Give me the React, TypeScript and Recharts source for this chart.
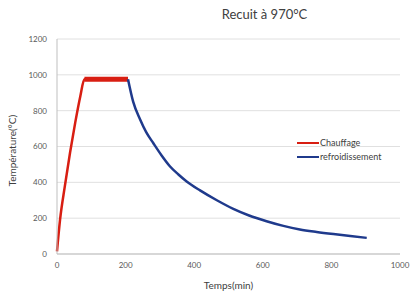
import React from "react";
import { LineChart, Line, XAxis, YAxis, CartesianGrid } from "recharts";

const chauffage = [
  { t: 0, v: 15 }, { t: 9, v: 193 }, { t: 23, v: 380 }, { t: 38, v: 565 },
  { t: 53, v: 732 }, { t: 68, v: 881 }, { t: 80, v: 975 }, { t: 207, v: 975 },
];
const palier = [{ t: 80, v: 975 }, { t: 207, v: 975 }];
const refroidissement = [
  { t: 207, v: 975 }, { t: 222, v: 850 }, { t: 242, v: 752 }, { t: 260, v: 680 },
  { t: 281, v: 618 }, { t: 305, v: 550 }, { t: 329, v: 490 }, { t: 354, v: 444 },
  { t: 378, v: 405 }, { t: 417, v: 355 }, { t: 466, v: 300 }, { t: 514, v: 252 },
  { t: 560, v: 215 }, { t: 611, v: 183 }, { t: 660, v: 157 }, { t: 708, v: 137 },
  { t: 757, v: 123 }, { t: 806, v: 111 }, { t: 855, v: 100 }, { t: 903, v: 90 },
];
const xTicks = [0, 200, 400, 600, 800, 1000];
const yTicks = [0, 200, 400, 600, 800, 1000, 1200];
const seriesNames = ["Chauffage", "refroidissement"];
const seriesColors = ["#D81E12", "#1F3A8C"];

const FONT = "Lato, 'Open Sans', sans-serif";

export default function App() {
  return (
    <div style={{ position: "absolute", left: 0, top: 0, width: 411, height: 295, background: "#fff" }}>
      <div style={{ position: "absolute", left: 0, width: 411, top: 6, textAlign: "center", fontFamily: FONT, fontSize: 13, color: "#404040", paddingLeft: 118, boxSizing: "border-box" }}>
        Recuit à 970°C
      </div>
      <LineChart width={411} height={295} margin={{ top: 39, right: 11, bottom: 0, left: 0 }}>
        <CartesianGrid vertical={false} stroke="#E0E0E0" />
        <XAxis
          type="number"
          dataKey="t"
          domain={[0, 1000]}
          ticks={xTicks}
          height={41}
          axisLine={{ stroke: "#BFBFBF" }}
          tickLine={false}
          tick={{ fontSize: 8, fill: "#595959", fontFamily: FONT }}
          label={{ value: "Temps(min)", position: "insideBottom", offset: 6, fontSize: 10, fill: "#404040", fontFamily: FONT }}
        />
        <YAxis
          type="number"
          domain={[0, 1200]}
          ticks={yTicks}
          width={57}
          axisLine={{ stroke: "#BFBFBF" }}
          tickLine={false}
          tick={{ fontSize: 8, fill: "#595959", fontFamily: FONT, dx: -2 }}
          label={{ value: "Température(°C)", angle: -90, position: "insideLeft", offset: 12, dy: 40, fontSize: 10, fill: "#404040", fontFamily: FONT }}
        />
        <Line data={chauffage} dataKey="v" name={seriesNames[0]} type="monotone" stroke={seriesColors[0]} strokeWidth={2.5} dot={false} isAnimationActive={false} />
        <Line data={palier} dataKey="v" legendType="none" stroke={seriesColors[0]} strokeWidth={5} dot={false} isAnimationActive={false} />
        <Line data={refroidissement} dataKey="v" name={seriesNames[1]} type="monotone" stroke={seriesColors[1]} strokeWidth={2.5} dot={false} isAnimationActive={false} />
      </LineChart>
      <div style={{ position: "absolute", left: 297, top: 136, fontFamily: FONT, fontSize: 9, color: "#404040", lineHeight: "14px" }}>
        {seriesNames.map((n, i) => (
          <div key={n} style={{ display: "flex", alignItems: "center" }}>
            <span style={{ display: "inline-block", width: 22, height: 2, background: seriesColors[i], marginRight: 1 }} />
            {n}
          </div>
        ))}
      </div>
    </div>
  );
}
